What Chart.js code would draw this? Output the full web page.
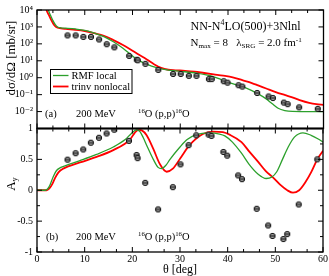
<!DOCTYPE html>
<html>
<head>
<meta charset="utf-8">
<script src="https://cdn.jsdelivr.net/npm/chart.js@4.4.1/dist/chart.umd.min.js"></script>
<style>
  html, body { margin: 0; padding: 0; background: #fff; }
  #wrap { position: relative; width: 329px; height: 276px; }
  #wrap canvas { position: absolute; left: 0; top: 0; }
</style>
</head>
<body>
<div id="wrap">
  <canvas id="bot" width="329" height="276"></canvas>
  <canvas id="top" width="329" height="276"></canvas>
</div>
<script>
// measured angles (deg) of the data points, shared by both panels
const dataDeg = [6.4, 8.1, 9.7, 11.3, 13.0, 14.6, 16.2, 19.3, 20.9, 21.1, 22.7, 25.4, 28.5, 30.1,
  31.8, 33.4, 36.0, 36.6, 39.1, 39.9, 42.2, 43.0, 46.1, 48.5, 49.4, 51.7, 52.5, 54.9, 58.8];
// dσ/dΩ data [mb/sr]
const dataCs = [316, 316, 257, 257, 182, 95, 62, 19.5, 11.5, 10.7, 6.6, 2.9, 1.66, 1.66,
  1.29, 1.29, 0.83, 0.83, 0.62, 0.51, 0.36, 0.30, 0.126, 0.078, 0.063, 0.034, 0.0275, 0.0178, 0.0145];
// Ay data
const dataAy = [0.495, 0.6, 0.66, 0.77, 0.85, 0.92, 0.98, 0.8, 0.57, 0.52, 0.12, -0.31, 0.05, 0.42,
  0.73, 0.89, 0.9, 0.88, 0.62, 0.56, 0.24, 0.18, -0.3, -0.57, -0.74, -0.79, -0.71, -0.23, 0.5];

// curves [deg, value]
const rmfCs = [[2.2, 20000], [2.4, 10000], [2.8, 5000], [3.3, 2500], [3.8, 1400], [4.3, 1000], [5, 890],
  [6, 850], [8, 760], [10, 630], [12, 436], [14, 269], [16, 132], [18, 55], [19.5, 25], [21, 11.7],
  [22.5, 7.2], [24, 4.8], [26, 3.3], [28, 2.75], [30, 2.4], [33.4, 1.86], [36.9, 1.17], [38.5, 0.79],
  [40.4, 0.5], [43.6, 0.257], [46.3, 0.11], [48, 0.056], [49.2, 0.030], [50.5, 0.0158], [51.9, 0.0115],
  [53.5, 0.0102], [56, 0.01], [60, 0.01]];
const trinvCs = [[1.8, 20000], [2.0, 10000], [2.5, 5000], [3.0, 2500], [3.5, 1400], [4.0, 1000], [5, 830],
  [6, 760], [8, 680], [10, 575], [12, 427], [14, 302], [16, 166], [18, 85], [19.5, 48], [21, 26],
  [23, 12], [24.5, 6.3], [26, 3.8], [27.5, 2.95], [29, 2.75], [31, 2.57], [33, 2.29], [35, 1.9],
  [37, 1.58], [39, 1.32], [41, 1.05], [43, 0.71], [45, 0.48], [46.3, 0.35], [48, 0.23], [50, 0.141],
  [52, 0.093], [53.3, 0.071], [55, 0.048], [57, 0.033], [58.5, 0.0275], [60, 0.025]];
const rmfAy = [[0, 0], [1.7, 0], [2.2, 0.02], [2.7, 0.08], [3.4, 0.22], [4.1, 0.32], [5, 0.37], [6, 0.40],
  [9, 0.48], [12.5, 0.58], [16, 0.7], [18.5, 0.82], [19.8, 0.92], [20.9, 0.98], [21.6, 0.95], [22.3, 0.85],
  [23, 0.73], [24.4, 0.5], [25.4, 0.37], [26.1, 0.35], [27, 0.4], [27.9, 0.5], [30, 0.7], [31.5, 0.82],
  [33.4, 0.9], [36.2, 0.93], [38.3, 0.91], [39.4, 0.88], [41, 0.78], [42.9, 0.6], [44.5, 0.42],
  [46.4, 0.26], [48.1, 0.19], [49.2, 0.21], [50.3, 0.3], [51.5, 0.5], [52.7, 0.7], [54, 0.86],
  [55.8, 0.93], [57.5, 0.89], [59, 0.83], [60, 0.78]];
const trinvAy = [[0, 0], [2, 0], [2.6, 0.03], [3.2, 0.1], [3.8, 0.2], [4.5, 0.29], [5.5, 0.35], [9, 0.45],
  [12.5, 0.54], [16, 0.65], [19.5, 0.82], [20.5, 0.93], [21.3, 0.98], [22, 0.97], [23, 0.89], [24.4, 0.67],
  [25.8, 0.42], [27.2, 0.3], [28.5, 0.35], [30, 0.51], [32, 0.73], [34.8, 0.91], [36.9, 0.95], [39, 0.94],
  [40.4, 0.9], [42.9, 0.78], [44.5, 0.63], [46.4, 0.46], [48, 0.31], [49.6, 0.2], [51, 0.09], [52.5, 0.0],
  [53.7, -0.04], [55, 0.0], [56.3, 0.13], [57.5, 0.29], [58.8, 0.5], [60, 0.64]];

// ticks
const degTicks = [0, 10, 20, 30, 40, 50, 60];
const csTickValues = [1e-3, 1e-2, 1e-1, 1, 10, 100, 1000, 10000];
const csTickLabels = ['', '10⁻²', '10⁻¹', '10⁰', '10¹', '10²', '10³', '10⁴'];
const ayTickValues = [-1, -0.5, 0, 0.5, 1];
const ayTickLabels = ['-1', '-0.5', '0', '0.5', '1'];
const ayMinor = [-0.75, -0.25, 0.25, 0.75];

const GREEN = '#2ca02c';
const RED = '#ff0000';
const SERIF = '"Liberation Serif", "DejaVu Serif", serif';

Chart.defaults.font.family = SERIF;
Chart.defaults.color = '#000';

// marker: grey circle with bar
const dot = document.createElement('canvas');
dot.width = 8; dot.height = 8;
(function () {
  const d = dot.getContext('2d');
  d.beginPath(); d.arc(4, 4, 2.7, 0, Math.PI * 2);
  d.fillStyle = '#9a9a9a'; d.fill();
  d.lineWidth = 1; d.strokeStyle = '#111'; d.stroke();
  d.beginPath(); d.moveTo(1.4, 4); d.lineTo(6.6, 4); d.stroke();
})();

const xy = arr => arr.map(p => ({ x: p[0], y: p[1] }));
const pts = vals => dataDeg.map((d, i) => ({ x: d, y: vals[i] }));

// rich text: parts = [[text, mode]], mode 1 sup, -1 sub
function richWidth(ctx, parts, size) {
  let w = 0;
  for (const [t, m] of parts) {
    ctx.font = (m ? size * 0.65 : size) + 'px ' + SERIF;
    w += ctx.measureText(t).width;
  }
  return w;
}
function rich(ctx, x, y, parts, size) {
  let cx = x;
  ctx.textBaseline = 'alphabetic';
  ctx.textAlign = 'left';
  for (const [t, m] of parts) {
    ctx.font = (m ? size * 0.65 : size) + 'px ' + SERIF;
    const dy = m === 1 ? -size * 0.4 : m === -1 ? size * 0.22 : 0;
    ctx.fillText(t, cx, y + dy);
    cx += ctx.measureText(t).width;
  }
}
function richRot(ctx, cx, cy, parts, size) {
  const w = richWidth(ctx, parts, size);
  ctx.save();
  ctx.translate(cx, cy);
  ctx.rotate(-Math.PI / 2);
  rich(ctx, -w / 2, size * 0.35, parts, size);
  ctx.restore();
}

// frame + inward ticks on all four sides
function drawFrame(chart, yMajor, yMinor) {
  const { ctx, chartArea: a } = chart;
  const xs = chart.scales.x, ys = chart.scales.y;
  ctx.save();
  ctx.strokeStyle = '#000';
  ctx.lineWidth = 1;
  ctx.beginPath();
  const xt = (v, len) => {
    const p = xs.getPixelForValue(v);
    ctx.moveTo(p, a.top); ctx.lineTo(p, a.top + len);
    ctx.moveTo(p, a.bottom); ctx.lineTo(p, a.bottom - len);
  };
  const yt = (v, len) => {
    const p = ys.getPixelForValue(v);
    ctx.moveTo(a.left, p); ctx.lineTo(a.left + len, p);
    ctx.moveTo(a.right, p); ctx.lineTo(a.right - len, p);
  };
  degTicks.forEach(v => xt(v, 5));
  for (let i = 0; i < 6; i++) { xt(10 * i + 10 / 3, 3); xt(10 * i + 20 / 3, 3); }
  yMajor.forEach(v => yt(v, 5));
  yMinor.forEach(v => yt(v, 3));
  ctx.stroke();
  ctx.lineWidth = 1.3;
  ctx.strokeRect(a.left, a.top, a.right - a.left, a.bottom - a.top);
  ctx.restore();
}

function baseX(display) {
  const x = {
    type: 'linear', min: 0, max: 60, display: display,
    grid: { display: false, drawTicks: false }, border: { display: false },
    afterBuildTicks: s => { s.ticks = degTicks.map(v => ({ value: v })); },
    ticks: { font: { size: 10 }, padding: 1, maxRotation: 0, autoSkip: false }
  };
  if (display) x.afterFit = s => { s.height = 24; };
  return x;
}

const topChart = new Chart(document.getElementById('top'), {
  type: 'scatter',
  data: {
    datasets: [
      { data: pts(dataCs), pointStyle: dot, pointRadius: 3, showLine: false },
      { data: xy(rmfCs), showLine: true, borderColor: GREEN, borderWidth: 1.3, pointRadius: 0, cubicInterpolationMode: 'monotone' },
      { data: xy(trinvCs), showLine: true, borderColor: RED, borderWidth: 1.8, pointRadius: 0, cubicInterpolationMode: 'monotone' }
    ]
  },
  options: {
    responsive: false, animation: false, events: [],
    layout: { padding: { left: 0, right: 5.5, top: 5, bottom: 147.5 } },
    plugins: { legend: { display: false }, tooltip: { enabled: false } },
    scales: {
      x: baseX(false),
      y: {
        type: 'logarithmic', min: 1e-3, max: 1e4,
        grid: { display: false, drawTicks: false }, border: { display: false },
        afterBuildTicks: s => { s.ticks = csTickValues.map(v => ({ value: v })); },
        ticks: { font: { size: 10 }, padding: 4, autoSkip: false, callback: (v, i) => csTickLabels[i] },
        afterFit: s => { s.width = 37; }
      }
    }
  },
  plugins: [{
    id: 'topDeco',
    afterDraw(chart) {
      drawFrame(chart, csTickValues, []);
      const ctx = chart.ctx;
      ctx.save();
      ctx.fillStyle = '#000';
      richRot(ctx, 10, 58, [['dσ/dΩ [mb/sr]', 0]], 13);
      rich(ctx, 190.5, 30, [['NN-N', 0], ['4', 1], ['LO(500)+3Nlnl', 0]], 12);
      rich(ctx, 190.5, 46, [['N', 0], ['max', -1], [' = 8   λ', 0], ['SRG', -1], [' = 2.0 fm', 0], ['-1', 1]], 11);
      rich(ctx, 45, 117, [['(a)', 0]], 10.5);
      rich(ctx, 76, 117, [['200 MeV', 0]], 10.5);
      rich(ctx, 138, 117, [['16', 1], ['O (p,p)', 0], ['16', 1], ['O', 0]], 10.5);
      // legend box
      ctx.fillStyle = '#fff';
      ctx.fillRect(50, 69.5, 82, 24);
      ctx.strokeStyle = '#000'; ctx.lineWidth = 1;
      ctx.strokeRect(50.5, 69.5, 81.5, 24);
      ctx.lineWidth = 1.3; ctx.strokeStyle = GREEN;
      ctx.beginPath(); ctx.moveTo(53, 75.5); ctx.lineTo(68.5, 75.5); ctx.stroke();
      ctx.lineWidth = 1.8; ctx.strokeStyle = RED;
      ctx.beginPath(); ctx.moveTo(53, 86.5); ctx.lineTo(68.5, 86.5); ctx.stroke();
      ctx.fillStyle = '#000';
      rich(ctx, 71.5, 79, [['RMF local', 0]], 10.5);
      rich(ctx, 71.5, 90, [['trinv nonlocal', 0]], 10.5);
      ctx.restore();
    }
  }]
});

const botChart = new Chart(document.getElementById('bot'), {
  type: 'scatter',
  data: {
    datasets: [
      { data: pts(dataAy), pointStyle: dot, pointRadius: 3, showLine: false },
      { data: xy(rmfAy), showLine: true, borderColor: GREEN, borderWidth: 1.3, pointRadius: 0, cubicInterpolationMode: 'monotone' },
      { data: xy(trinvAy), showLine: true, borderColor: RED, borderWidth: 1.8, pointRadius: 0, cubicInterpolationMode: 'monotone' }
    ]
  },
  options: {
    responsive: false, animation: false, events: [],
    layout: { padding: { left: 0, right: 5.5, top: 128.5, bottom: 0 } },
    plugins: { legend: { display: false }, tooltip: { enabled: false } },
    scales: {
      x: baseX(true),
      y: {
        type: 'linear', min: -1, max: 1,
        grid: { display: false, drawTicks: false }, border: { display: false },
        afterBuildTicks: s => { s.ticks = ayTickValues.map(v => ({ value: v })); },
        ticks: { font: { size: 10 }, padding: 4, autoSkip: false, callback: (v, i) => ayTickLabels[i] },
        afterFit: s => { s.width = 37; }
      }
    }
  },
  plugins: [{
    id: 'botDeco',
    afterDraw(chart) {
      drawFrame(chart, ayTickValues, ayMinor);
      const ctx = chart.ctx;
      ctx.save();
      ctx.fillStyle = '#000';
      ctx.strokeStyle = '#333'; ctx.lineWidth = 2.2;
      ctx.beginPath(); ctx.moveTo(chart.chartArea.left, 128.5); ctx.lineTo(chart.chartArea.right, 128.5); ctx.stroke();
      richRot(ctx, 10, 184, [['A', 0], ['y', -1]], 13);
      rich(ctx, 46, 240, [['(b)', 0]], 10.5);
      rich(ctx, 76, 240, [['200 MeV', 0]], 10.5);
      rich(ctx, 138, 240, [['16', 1], ['O (p,p)', 0], ['16', 1], ['O', 0]], 10.5);
      const w = richWidth(ctx, [['θ [deg]', 0]], 12);
      rich(ctx, 180 - w / 2, 273, [['θ [deg]', 0]], 12);
      ctx.restore();
    }
  }]
});
</script>
</body>
</html>
